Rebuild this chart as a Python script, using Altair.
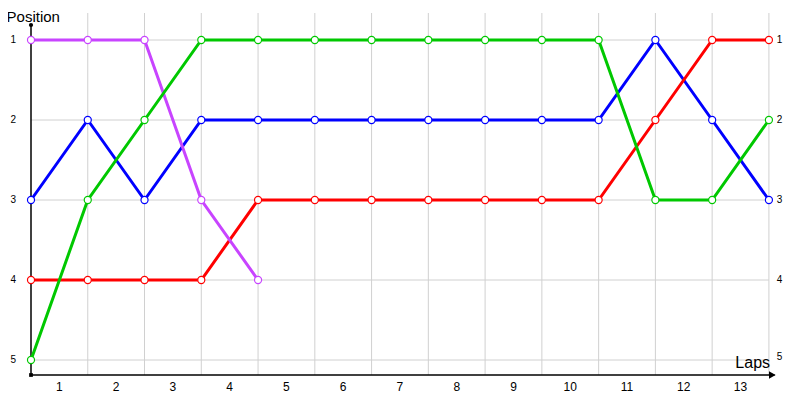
import altair as alt
import pandas as pd

laps = list(range(0, 14))
blue = [3, 2, 3, 2, 2, 2, 2, 2, 2, 2, 2, 1, 2, 3]
red = [4, 4, 4, 4, 3, 3, 3, 3, 3, 3, 3, 2, 1, 1]
green = [5, 3, 2, 1, 1, 1, 1, 1, 1, 1, 1, 3, 3, 2]
magenta = [1, 1, 1, 3, 4]
lap_labels = [str(i) for i in range(1, 14)]
pos_labels = [1, 2, 3, 4, 5]

series = [
    ("blue", blue, "#0000ff"),
    ("red", red, "#ff0000"),
    ("magenta", magenta, "#c844ff"),
    ("green", green, "#00c800"),
]

XD = [0, 13.16]
YD = [0.6625, 5.1875]
xs = alt.Scale(domain=XD, nice=False, zero=False)
ys = alt.Scale(domain=YD, reverse=True, nice=False, zero=False)
FONT = "Liberation Sans"

def X(f="x", t="quantitative"):
    return alt.X(f, type=t, scale=xs, axis=None)

def Y(f="y", t="quantitative"):
    return alt.Y(f, type=t, scale=ys, axis=None)

vgrid = pd.DataFrame({"x": list(range(1, 14)), "y": YD[0], "y2": YD[1]})
hgrid = pd.DataFrame({"y": pos_labels, "x": 0, "x2": 13})

layers = []
layers.append(alt.Chart(vgrid).mark_rule(color="#d0d0d0", strokeWidth=1).encode(
    x=X(), y=Y(), y2="y2"))
layers.append(alt.Chart(hgrid).mark_rule(color="#d0d0d0", strokeWidth=1).encode(
    x=X(), x2="x2", y=Y()))

# axes
yaxis = pd.DataFrame({"x": [0], "y": [0.8125], "y2": [YD[1]]})
layers.append(alt.Chart(yaxis).mark_rule(color="black", strokeWidth=1.5).encode(
    x=X(), y=Y(), y2="y2"))
xaxis = pd.DataFrame({"x": [0], "x2": [13.1], "y": [YD[1]]})
layers.append(alt.Chart(xaxis).mark_rule(color="black", strokeWidth=1.5).encode(
    x=X(), x2="x2", y=Y()))
arrow = pd.DataFrame({"x": [13.06], "y": [YD[1]]})
layers.append(alt.Chart(arrow).mark_point(shape="triangle-right", filled=True, color="black",
                                          size=60, opacity=1).encode(x=X(), y=Y()))
topdot = pd.DataFrame({"x": [0], "y": [0.8125]})
layers.append(alt.Chart(topdot).mark_point(shape="circle", filled=True, color="black",
                                           size=18, opacity=1).encode(x=X(), y=Y()))
origin = pd.DataFrame({"x": [0], "y": [YD[1]]})
layers.append(alt.Chart(origin).mark_point(shape="square", filled=True, color="black",
                                           size=14, opacity=1).encode(x=X(), y=Y()))

# tick labels
xl = pd.DataFrame({"x": [i + 0.5 for i in range(13)], "y": 5.34, "t": lap_labels})
layers.append(alt.Chart(xl).mark_text(font=FONT, fontSize=12, color="black",
                                      baseline="middle", align="center").encode(
    x=X(), y=Y(), text="t:N"))
yl = pd.DataFrame({"x": -0.31, "y": pos_labels, "t": [str(p) for p in pos_labels]})
layers.append(alt.Chart(yl).mark_text(font=FONT, fontSize=10, color="black",
                                      baseline="middle", align="center").encode(
    x=X(), y=Y(), text="t:N"))
yr = pd.DataFrame({"x": 13.14, "y": [1, 2, 3, 4, 4.96], "t": [str(p) for p in pos_labels]})
layers.append(alt.Chart(yr).mark_text(font=FONT, fontSize=10, color="black",
                                      baseline="middle", align="left").encode(
    x=X(), y=Y(), text="t:N"))

# titles
pt = pd.DataFrame({"x": [-0.43], "y": [0.71], "t": ["Position"]})
layers.append(alt.Chart(pt).mark_text(font=FONT, fontSize=15, color="black",
                                      baseline="middle", align="left").encode(
    x=X(), y=Y(), text="t:N"))
lt = pd.DataFrame({"x": [13.02], "y": [5.04], "t": ["Laps"]})
layers.append(alt.Chart(lt).mark_text(font=FONT, fontSize=16, color="black",
                                      baseline="middle", align="right").encode(
    x=X(), y=Y(), text="t:N"))

for name, vals, col in series:
    df = pd.DataFrame({"x": laps[:len(vals)], "y": vals})
    layers.append(alt.Chart(df).mark_line(color=col, strokeWidth=3).encode(x=X(), y=Y()))
for name, vals, col in series:
    df = pd.DataFrame({"x": laps[:len(vals)], "y": vals})
    layers.append(alt.Chart(df).mark_point(shape="circle", filled=True, fill="white",
                                           stroke=col, strokeWidth=1.2, size=50,
                                           opacity=1).encode(x=X(), y=Y()))

chart = alt.layer(*layers).properties(
    width=747, height=362,
    autosize=alt.AutoSizeParams(type="none"),
    padding={"left": 23, "top": 5, "right": 13, "bottom": 21},
).configure_view(stroke=None)

chart.save("out.html", embed_options={"renderer": "svg", "actions": False})
